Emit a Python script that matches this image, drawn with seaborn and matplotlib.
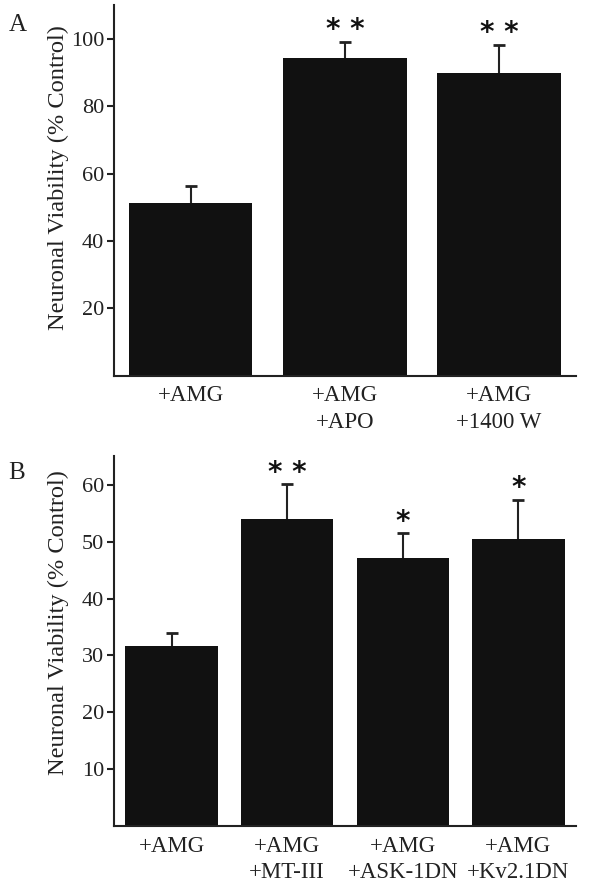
import matplotlib
matplotlib.use("Agg")
import matplotlib.pyplot as plt
import seaborn as sns
import pandas as pd

# Panel A data
cats_a = ["+AMG", "+AMG\n+APO", "+AMG\n+1400 W"]
vals_a = [51.3, 94.4, 89.9]
err_a = [5.0, 4.7, 8.3]
stars_a = ["", "* *", "* *"]
yticks_a = [20, 40, 60, 80, 100]

# Panel B data
cats_b = ["+AMG", "+AMG\n+MT-III", "+AMG\n+ASK-1DN", "+AMG\n+Kv2.1DN"]
vals_b = [31.7, 54.0, 47.2, 50.4]
err_b = [2.3, 6.1, 4.3, 7.0]
stars_b = ["", "* *", "*", "*"]
yticks_b = [10, 20, 30, 40, 50, 60]

sns.set_theme(style="ticks")
plt.rcParams["font.family"] = ["Liberation Serif", "DejaVu Serif"]

fig = plt.figure(figsize=(6.02, 8.88), dpi=100)
ax_a = fig.add_axes([0.189, 0.577, 0.768, 0.417])
ax_b = fig.add_axes([0.189, 0.070, 0.768, 0.416])

BAR = "#111111"
INK = "#222222"

def panel(ax, cats, vals, errs, stars, yticks, ymax, letter, label_y, letter_y):
    df = pd.DataFrame({"cond": cats, "val": vals})
    sns.barplot(data=df, x="cond", y="val", color=BAR, saturation=1,
                width=0.8, ax=ax, edgecolor=BAR, linewidth=0)
    for p, v, e, s in zip(ax.patches, vals, errs, stars):
        cx = p.get_x() + p.get_width() / 2
        ax.errorbar([cx], [v], yerr=[[0], [e]], fmt="none", ecolor=INK,
                    elinewidth=1.5, capsize=0)
        ax.plot([cx], [v + e], marker="_", markersize=9, markeredgewidth=2,
                color=INK, linestyle="none")
        if s:
            ax.text(cx, v + e - 0.5, s, ha="center", va="bottom",
                    fontsize=20, fontweight="bold", family="DejaVu Sans",
                    color="#111111")
    ax.set_xlim(-0.5, len(cats) - 0.5)
    ax.set_ylim(0, ymax)
    ax.set_yticks(yticks)
    ax.set_yticklabels([str(t) for t in yticks], fontsize=16, color=INK)
    ax.tick_params(axis="y", direction="out", length=5, width=1.5, color=INK, pad=2)
    ax.tick_params(axis="x", length=0, pad=7, labelsize=16.5, labelcolor=INK)
    plt.setp(ax.get_xticklabels(), linespacing=1.35)
    ax.set_xlabel("")
    ax.set_ylabel("Neuronal Viability (% Control)", fontsize=17.6, color=INK)
    ax.yaxis.set_label_coords(-0.097, label_y)
    sns.despine(ax=ax)
    for sp in ("left", "bottom"):
        ax.spines[sp].set_linewidth(1.5)
        ax.spines[sp].set_color(INK)
    ax.text(-0.228, letter_y, letter, transform=ax.transAxes, fontsize=18,
            ha="left", va="center", color=INK)

panel(ax_a, cats_a, vals_a, err_a, stars_a, yticks_a, 110, "A", 0.536, 0.946)
panel(ax_b, cats_b, vals_b, err_b, stars_b, yticks_b, 65, "B", 0.551, 0.954)

fig.savefig("out.png", dpi=100)
